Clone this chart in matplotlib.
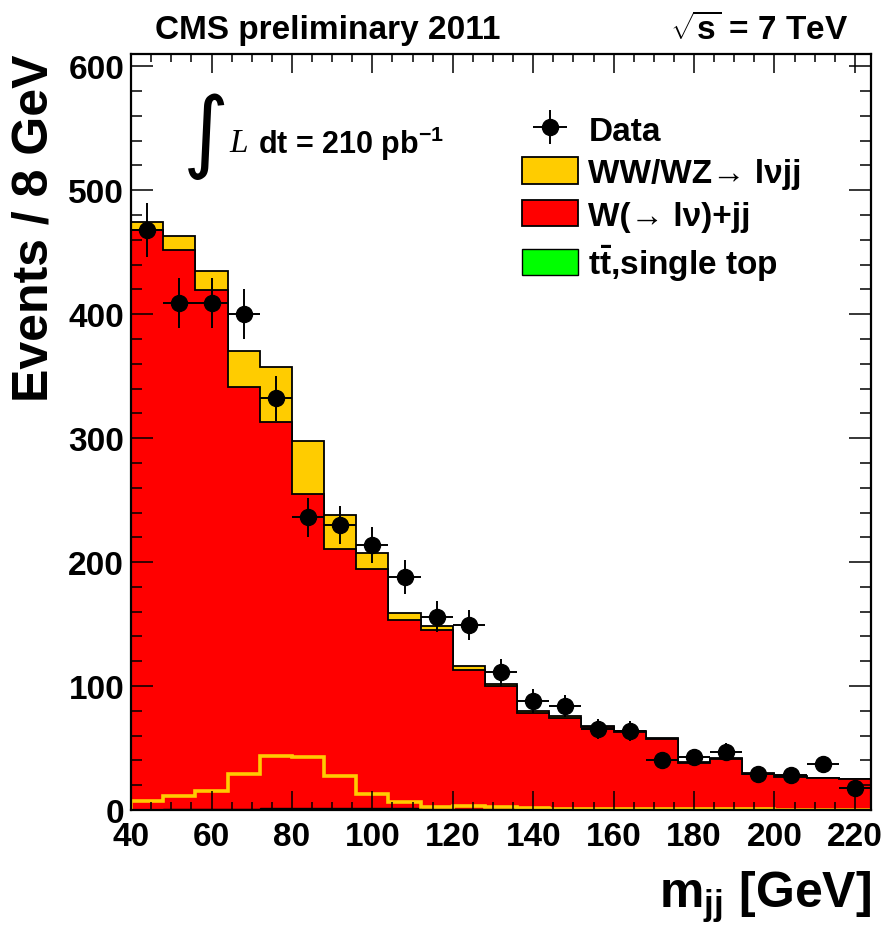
import numpy as np
import matplotlib
matplotlib.use("Agg")
import matplotlib.pyplot as plt
from matplotlib.ticker import MultipleLocator

plt.rcParams['font.family'] = ['Liberation Sans', 'DejaVu Sans']
plt.rcParams['font.weight'] = 'bold'
plt.rcParams['axes.labelweight'] = 'bold'
plt.rcParams['mathtext.fontset'] = 'custom'
plt.rcParams['mathtext.rm'] = 'Liberation Sans:bold'
plt.rcParams['mathtext.bf'] = 'Liberation Sans:bold'
plt.rcParams['mathtext.it'] = 'Liberation Serif:italic'
plt.rcParams['mathtext.default'] = 'rm'

# m_jj bins, 8 GeV wide
bin_edges = np.arange(40, 225, 8)

data_counts = [468, 409, 409, 400, 332, 236, 230, 214, 188, 156, 149, 111,
               88, 84, 65, 64, 40, 43, 47, 29, 28, 37, 18]

ww_wz = [7.2, 11.2, 15.5, 29.0, 43.7, 42.8, 27.4, 12.8, 6.4, 2.7, 3.2, 2.1,
         1.5, 1.2, 1.0, 1.0, 0.8, 0.7, 0.6, 0.5, 0.4, 0.4, 0.3]

w_jets = [467.2, 451.3, 418.6, 340.4, 311.8, 252.8, 208.6, 192.8, 151.5, 144.2, 111.7, 99.0,
          77.5, 73.9, 66.1, 62.2, 57.2, 37.5, 40.9, 28.7, 26.8, 25.4, 24.9]

top = [0.3, 0.5, 0.7, 1.0, 1.5, 1.8, 1.8, 1.6, 1.4, 1.2, 1.0, 0.9,
       0.8, 0.7, 0.6, 0.5, 0.4, 0.4, 0.3, 0.3, 0.2, 0.2, 0.2]

yellow = '#FFCC00'
red = '#FF0000'
green = '#00FF00'

top = np.array(top)
wj_stack = top + np.array(w_jets)
all_stack = wj_stack + np.array(ww_wz)
centers = (bin_edges[:-1] + bin_edges[1:]) / 2
data_counts = np.array(data_counts, dtype=float)

fig = plt.figure(figsize=(8.86, 9.28), dpi=100)
ax = fig.add_axes([0.148, 0.126, 0.835, 0.815])

h_ww = ax.stairs(all_stack, bin_edges, fill=True, facecolor=yellow, edgecolor='black', linewidth=1.3)
h_wj = ax.stairs(wj_stack, bin_edges, fill=True, facecolor=red, edgecolor='black', linewidth=1.3)
h_tt = ax.stairs(top, bin_edges, fill=True, facecolor=green, edgecolor='black', linewidth=1.0)
ax.stairs(ww_wz, bin_edges, color=yellow, linewidth=2.6)

h_data = ax.errorbar(centers, data_counts, xerr=4, yerr=np.sqrt(data_counts), fmt='o',
                     color='black', ms=11.5, elinewidth=1.4, capsize=0)

ax.set_xlim(40, 224)
ax.set_ylim(0, 610)
ax.xaxis.set_major_locator(MultipleLocator(20))
ax.xaxis.set_minor_locator(MultipleLocator(5))
ax.yaxis.set_major_locator(MultipleLocator(100))
ax.yaxis.set_minor_locator(MultipleLocator(20))
ax.tick_params(axis='both', which='both', direction='in', top=True, right=True, width=1.1)
ax.tick_params(axis='x', which='major', length=14, pad=8, labelsize=24)
ax.tick_params(axis='x', which='minor', length=6)
ax.tick_params(axis='y', which='major', length=16, pad=5, labelsize=24)
ax.tick_params(axis='y', which='minor', length=8)
for s in ax.spines.values():
    s.set_linewidth(1.6)

ax.set_ylabel("Events / 8 GeV", fontsize=36, loc='top', labelpad=8)
ax.set_xlabel(r"m$_{\mathbf{jj}}$ [GeV]", fontsize=36, loc='right', labelpad=12)

fig.text(0.37, 0.967, "CMS preliminary 2011", fontsize=24, ha='center', va='center')
fig.text(0.957, 0.967, r"$\sqrt{\mathbf{s}}$ = 7 TeV", fontsize=24, ha='right', va='center')

ax.text(0.07, 0.892, "\u222B", transform=ax.transAxes, fontsize=64, family='DejaVu Sans',
        fontweight='normal', va='center', ha='left')
ax.text(0.133, 0.882, "L", transform=ax.transAxes, fontsize=24, family='Liberation Serif',
        style='italic', fontweight='normal', va='center', ha='left')
ax.text(0.172, 0.882, r"dt = 210 pb$^{-1}$", transform=ax.transAxes, fontsize=22,
        va='center', ha='left')

ax.legend([h_data, h_ww, h_wj, h_tt],
          ["Data", "WW/WZ\u2192 l\u03BDjj", "W(\u2192 l\u03BD)+jj", r"t$\bar{\mathrm{t}}$,single top"],
          loc='upper left', bbox_to_anchor=(0.51, 0.937), frameon=False, fontsize=24,
          handlelength=1.7, handleheight=0.85, handletextpad=0.3, labelspacing=0.32,
          borderaxespad=0)

fig.savefig("out.png", dpi=100)
